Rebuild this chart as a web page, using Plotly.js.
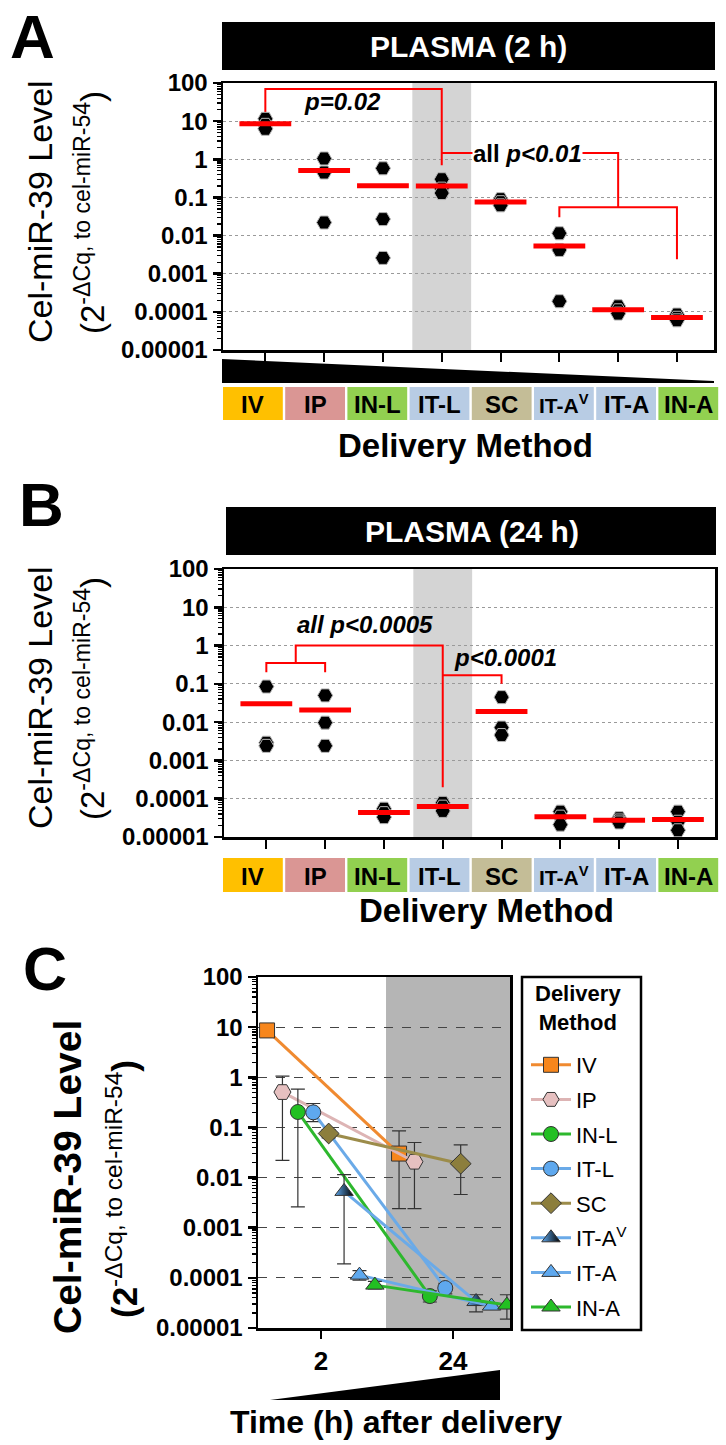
<!DOCTYPE html>
<html><head><meta charset="utf-8">
<script src="https://cdn.plot.ly/plotly-3.0.1.min.js"></script>
<style>html,body{margin:0;padding:0;background:#fff}#fig{width:726px;height:1445px}</style>
</head><body><div id="fig"></div>
<script>
// ---------------- data ----------------
const categories = ['IV','IP','IN-L','IT-L','SC','IT-A<sup>V</sup>','IT-A','IN-A'];
const yTickVals = [1e-5,1e-4,1e-3,1e-2,1e-1,1,10,100];
const yTickText = ['0.00001','0.0001','0.001','0.01','0.1','1','10','100'];
const timeTicks = ['2','24'];
// replicate values (3 animals per delivery method)
const plasma2h = [[11.5,8.0,6.3],[1.05,0.45,0.022],[0.58,0.027,0.0026],[0.30,0.17,0.13],
                  [0.09,0.075,0.062],[0.0115,0.0042,0.00019],[0.00014,0.00011,0.00009],[0.000085,0.00007,0.00006]];
const plasma24h = [[0.085,0.0029,0.0024],[0.05,0.0097,0.0024],[0.000055,0.000042,0.000033],[0.000078,0.000062,0.000048],
                   [0.045,0.0072,0.0046],[0.000046,0.000034,0.000021],[0.000031,0.000027,0.000024],[0.000046,0.000025,0.000015]];
// significance brackets (category index, value)
const bracketA1x = [0,0,3,3],   bracketA1y = [16,70,70,0.7];
const bracketA2x = [3,6,6],     bracketA2y = [1.46,1.46,0.055];
const bracketA3x = [5,5,7,7],   bracketA3y = [0.03,0.055,0.055,0.0024];
const bracketB1x = [0,0,1,1],   bracketB1y = [0.2,0.35,0.35,0.2];
const bracketB2x = [0.5,0.5,3,3], bracketB2y = [0.35,1,1,0.0002];
const bracketB3x = [3,4,4],     bracketB3y = [0.168,0.168,0.1];

// ---------------- style ----------------
const W = 726, H = 1445;
const F = 'Arial, "Liberation Sans", Helvetica, sans-serif';
const px = x => x / W, py = y => 1 - y / H;
const boxColors = ['#FFC000','#DA9694','#92D050','#B8CCE4','#C4BD97','#B8CCE4','#B8CCE4','#92D050'];
const seriesColors = ['#F7861C','#E6C0C0','#22C022','#5EA8EE','#8C7E3C','#5EA8EE','#5EA8EE','#22C022'];
const seriesLine   = ['#F08A30','#DDB4B4','#2DB82D','#6AAAE8','#9C8C4A','#6AAAE8','#6AAAE8','#2DB82D'];
const seriesSym    = ['square','hexagon2','circle','circle','diamond','triangle-up','triangle-up','triangle-up'];
const seriesSize   = [15,17,15,15,16,16,16,16];
const dodge = 0.1167;

const mean = a => a.reduce((s,v)=>s+v,0)/a.length;
const traces = [];

function dotPanel(data, xa, ya, brackets){
  brackets.forEach(b => traces.push({type:'scatter',mode:'lines',x:b[0],y:b[1],xaxis:xa,yaxis:ya,
    showlegend:false,hoverinfo:'skip',line:{color:'#ff0000',width:2}}));
  const xs=[], ys=[];
  data.forEach((reps,i)=>reps.forEach(v=>{xs.push(i);ys.push(v);}));
  traces.push({type:'scatter',mode:'markers',x:xs,y:ys,xaxis:xa,yaxis:ya,showlegend:false,
    marker:{symbol:'hexagon2',size:15,color:'#000',line:{color:'#b5b5b5',width:1}}});
  traces.push({type:'scatter',mode:'markers',x:data.map((r,i)=>i),y:data.map(mean),xaxis:xa,yaxis:ya,showlegend:false,
    marker:{symbol:'line-ew',size:37,color:'#ff0000',line:{color:'#ff0000',width:5}}});
}
dotPanel(plasma2h,'x','y',[[bracketA1x,bracketA1y],[bracketA2x,bracketA2y],[bracketA3x,bracketA3y]]);
dotPanel(plasma24h,'x2','y2',[[bracketB1x,bracketB1y],[bracketB2x,bracketB2y],[bracketB3x,bracketB3y]]);

// panel C: means with range error bars
categories.forEach((name,k)=>{
  const sets=[plasma2h[k],plasma24h[k]];
  const m=sets.map(mean);
  const off=(k-3.5)*dodge;
  const tr={type:'scatter',mode:'lines+markers',name:name,legendgroup:'g'+k,
    x:[0+off,1+off],y:m,xaxis:'x3',yaxis:'y3',
    line:{color:seriesLine[k],width:3},
    marker:{symbol:seriesSym[k],size:seriesSize[k],color:seriesColors[k],line:{color:'#333',width:1}},
    error_y:{type:'data',symmetric:false,array:sets.map((s,i)=>Math.max(...s)-m[i]),
      arrayminus:sets.map((s,i)=>m[i]-Math.min(...s)),color:'#333',thickness:1.2,width:7}};
  if(k===5) tr.marker.gradient={type:'horizontal',color:'#000'};
  traces.push(tr);
});

// ---------------- axes ----------------
const minorVals=[];
for(let d=-5;d<2;d++) for(let k=2;k<10;k++) minorVals.push(k*Math.pow(10,d));
function yAx(domain, dash, gcolor){
  return {type:'log',domain:domain,range:[-5,2],tickmode:'array',tickvals:yTickVals,ticktext:yTickText,
    tickfont:{family:F,size:24,color:'#000',weight:'bold'},ticks:'outside',ticklen:8,tickwidth:2.5,tickcolor:'#000',
    showline:true,linewidth:2.5,linecolor:'#000',mirror:true,showgrid:true,griddash:dash,gridcolor:gcolor,gridwidth:1,
    zeroline:false,
    minor:{tickmode:'array',tickvals:minorVals,ticks:'outside',ticklen:4,tickwidth:1.2,tickcolor:'#000',showgrid:false}};
}
function xCat(domain){
  return {domain:domain,range:[-0.72,7.63],tickmode:'array',tickvals:[0,1,2,3,4,5,6,7],showticklabels:false,
    ticks:'outside',ticklen:9,tickwidth:2,tickcolor:'#000',showline:true,linewidth:2.5,linecolor:'#000',mirror:true,
    showgrid:false,zeroline:false};
}

// ---------------- shapes & annotations ----------------
const shapes=[], ann=[];
function rectPx(x0,y0,x1,y1,color,lineW){shapes.push({type:'rect',xref:'paper',yref:'paper',x0:px(x0),x1:px(x1),y0:py(y1),y1:py(y0),
  fillcolor:color,line:lineW?{width:lineW,color:'#000'}:{width:0},layer:'below'});}
function textPx(x,y,text,size,opts){ann.push(Object.assign({xref:'paper',yref:'paper',x:px(x),y:py(y),text:text,showarrow:false,
  xanchor:'center',yanchor:'middle',font:{family:F,size:size,color:'#000'}},opts||{}));}

// panel letters
textPx(32,0,'<b>A</b>',62,{yanchor:'top'}); textPx(41,504,'<b>B</b>',62); textPx(45,969,'<b>C</b>',61);
// title bars
rectPx(222,22,715,70,'#000'); textPx(468,46,'<b>PLASMA (2 h)</b>',30,{font:{family:F,size:30,color:'#fff'}});
rectPx(226,507,716,555,'#000'); textPx(472,531,'<b>PLASMA (24 h)</b>',30,{font:{family:F,size:30,color:'#fff'}});
// gray bands
shapes.push({type:'rect',xref:'x',yref:'y domain',x0:2.5,x1:3.5,y0:0,y1:1,fillcolor:'#D4D4D4',line:{width:0},layer:'below'});
shapes.push({type:'rect',xref:'x2',yref:'y2 domain',x0:2.5,x1:3.5,y0:0,y1:1,fillcolor:'#D4D4D4',line:{width:0},layer:'below'});
shapes.push({type:'rect',xref:'x3 domain',yref:'y3 domain',x0:0.508,x1:1,y0:0,y1:1,fillcolor:'#B5B5B5',line:{width:0},layer:'below'});
// wedges
shapes.push({type:'path',xref:'paper',yref:'paper',path:`M${px(222)},${py(359)} L${px(714)},${py(381)} L${px(714)},${py(383)} L${px(222)},${py(383)} Z`,fillcolor:'#000',line:{width:0}});
shapes.push({type:'path',xref:'paper',yref:'paper',path:`M${px(270)},${py(1400)} L${px(500)},${py(1370)} L${px(500)},${py(1400)} Z`,fillcolor:'#000',line:{width:0}});
// category boxes
function catBoxes(y0,y1){
  const x0=223, step=62.2, w=59.8;
  categories.forEach((c,i)=>{
    rectPx(x0+i*step,y0,x0+i*step+w,y1,boxColors[i]);
    textPx(x0+i*step+w/2,(y0+y1)/2+1,'<b>'+c+'</b>',c.length>6?21:24);
  });
}
catBoxes(387,420); catBoxes(858,892);
textPx(465,445,'<b>Delivery Method</b>',33);
textPx(486,910,'<b>Delivery Method</b>',33);
textPx(396,1422,'<b>Time (h) after delivery</b>',32);
// y titles
const yT1='Cel-miR-39 Level', yT2='(2<sup>-ΔCq, to cel-miR-54</sup>)';
textPx(40,212,yT1,34,{textangle:-90}); textPx(90,213,yT2,33,{textangle:-90});
textPx(40,698,yT1,34,{textangle:-90}); textPx(90,699,yT2,33,{textangle:-90});
textPx(67,1177,'<b>'+yT1+'</b>',39,{textangle:-90}); textPx(122,1189,'<b>(2</b><sup>-ΔCq, to cel-miR-54</sup><b>)</b>',35,{textangle:-90});
// legend frame and title (legend entries drawn by plotly)
rectPx(522,977,641,1330,'#fff',2.5);
textPx(578,1008,'<b>Delivery<br>Method</b>',22);
// p-value labels (data coords)
function pLab(xa,ya,x,v,text,bg){ann.push({xref:xa,yref:ya,x:x,y:Math.log10(v),text:text,showarrow:false,xanchor:'center',yanchor:'middle',
  font:{family:F,size:24,color:'#000'},bgcolor:bg||'rgba(0,0,0,0)',borderpad:0});}
pLab('x','y',1.31,33,'<b><i>p=0.02</i></b>');
pLab('x','y',4.46,1.46,'<b>all <i>p&lt;0.01</i></b>','#fff');
pLab('x2','y2',1.67,3.6,'<b><i>all p&lt;0.0005</i></b>');
pLab('x2','y2',4.07,0.5,'<b><i>p&lt;0.0001</i></b>');

const layout={
  width:W,height:H,margin:{l:0,r:0,t:0,b:0},paper_bgcolor:'#fff',plot_bgcolor:'rgba(0,0,0,0)',
  font:{family:F,color:'#000'},
  xaxis:xCat([px(223),px(714)]), yaxis:yAx([py(350),py(83)],'dot','#9a9a9a'),
  xaxis2:xCat([px(224),px(715)]), yaxis2:Object.assign(yAx([py(837),py(569)],'dot','#9a9a9a'),{anchor:'x2'}),
  xaxis3:{domain:[px(258),px(510)],anchor:'y3',range:[-0.477,1.432],tickmode:'array',tickvals:[0,1],ticktext:timeTicks,
    tickfont:{family:F,size:26,color:'#000',weight:'bold'},ticks:'outside',ticklen:8,tickwidth:2.5,tickcolor:'#000',
    showline:true,linewidth:2.5,linecolor:'#000',mirror:true,showgrid:false,zeroline:false},
  yaxis3:Object.assign(yAx([py(1328),py(977)],'dash','#444'),{anchor:'x3'}),
  showlegend:true,
  legend:{x:px(526),y:py(1044),xanchor:'left',yanchor:'top',bgcolor:'rgba(0,0,0,0)',borderwidth:0,
    font:{family:F,size:22,color:'#000'},tracegroupgap:3,itemwidth:40},
  shapes:shapes, annotations:ann
};
layout.xaxis.anchor='y'; layout.yaxis.anchor='x'; layout.xaxis2.anchor='y2';
Plotly.newPlot('fig',traces,layout,{staticPlot:true});
</script></body></html>
